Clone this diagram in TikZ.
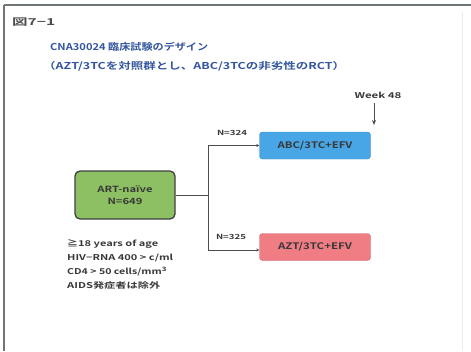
\documentclass[tikz,border=0pt]{standalone}
\usepackage{fontspec}
\usepackage{graphicx}
\setmainfont{Noto Sans CJK JP}[BoldFont={Noto Sans CJK JP Bold}]
\usetikzlibrary{arrows.meta}
\definecolor{frame}{HTML}{6E7676}
\definecolor{titleblue}{HTML}{34569E}
\definecolor{boxgreen}{HTML}{8CC062}
\definecolor{boxblue}{HTML}{48A6E6}
\definecolor{boxred}{HTML}{F07C84}
\definecolor{txt}{HTML}{383838}
\newcommand\fitw[2]{\resizebox{#1}{\height}{#2}}
\tikzset{
  armbox/.style={rounded corners=3pt, minimum width=111pt, minimum height=27pt, inner sep=0pt, font=\bfseries\fontsize{9}{10}\selectfont, text=txt},
  plain/.style={inner sep=0pt, text=txt, font=\bfseries},
  conn/.style={draw=txt!90, line width=1pt},
}
\begin{document}
\begin{tikzpicture}[x=1pt,y=-1pt]
\useasboundingbox (0,0) rectangle (471,351);
\fill[white] (0,0) rectangle (471,351);
% frame
\draw[frame, line width=2pt] (3.5,5) -- (471,5);
\draw[frame, line width=2pt] (3.5,5) -- (3.5,351);
\draw[black!8, line width=0.8pt] (462,12) -- (462,351);
% heading
\node[plain, anchor=west, text=black!70, font=\bfseries\fontsize{9.5}{11}\selectfont] (fig) at (12,22) {\fitw{43pt}{図7−1}};
\node[plain, anchor=west, text=titleblue, font=\bfseries\fontsize{9.5}{11}\selectfont] (t1) at (50,47) {\fitw{158pt}{CNA30024 臨床試験のデザイン}};
\node[plain, anchor=west, text=titleblue, font=\bfseries\fontsize{9.5}{11}\selectfont] (t2) at (43,66) {\fitw{302pt}{（AZT/3TCを対照群とし、ABC/3TCの非劣性のRCT）}};
% boxes
\node[draw=black!75, line width=1.3pt, fill=boxgreen, rounded corners=5pt, minimum width=100pt, minimum height=48pt, align=center, font=\bfseries\fontsize{8.5}{12}\selectfont, text=txt] (naive) at (125,195) {\fitw{55pt}{ART-naïve}\\\fitw{35pt}{N=649}};
\node[armbox, draw=boxblue!85!black, fill=boxblue] (abc) at (315,145.5) {\fitw{75pt}{ABC/3TC+EFV}};
\node[armbox, draw=boxred!85!black, fill=boxred] (azt) at (315,247) {\fitw{74pt}{AZT/3TC+EFV}};
% week 48
\node[plain, font=\bfseries\fontsize{8}{9}\selectfont] (week) at (378,95) {\fitw{47pt}{Week 48}};
\coordinate (wtop) at (374,103);
\coordinate (wbot) at (374,125);
\draw[conn, -{Stealth[length=5pt,width=4pt]}] (wtop) -- (wbot);
% connectors
\coordinate (split) at (208,195);
\coordinate (up) at (208,145.5);
\coordinate (down) at (208,250);
\draw[conn] (naive.east) -- (split);
\draw[conn, -{Stealth[length=3pt,width=3pt]}] (split) -- (up) -- (abc.west);
\draw[conn, -{Stealth[length=3pt,width=3pt]}] (split) -- (down) -- (azt.west |- down);
\node[plain, font=\bfseries\fontsize{7}{8}\selectfont] (n1) at (232,133) {\fitw{30pt}{N=324}};
\node[plain, font=\bfseries\fontsize{7}{8}\selectfont] (n2) at (231,237) {\fitw{30pt}{N=325}};
% criteria
\node[plain, anchor=north west, align=left, font=\bfseries\fontsize{8}{14}\selectfont] (crit) at (67,239) {\fitw{91pt}{≧18 years of age}\\\fitw{106pt}{HIV−RNA 400 > c/ml}\\\fitw{100pt}{CD4 > 50 cells/mm\textsuperscript{3}}\\\fitw{93pt}{AIDS発症者は除外}};
\end{tikzpicture}
\end{document}
